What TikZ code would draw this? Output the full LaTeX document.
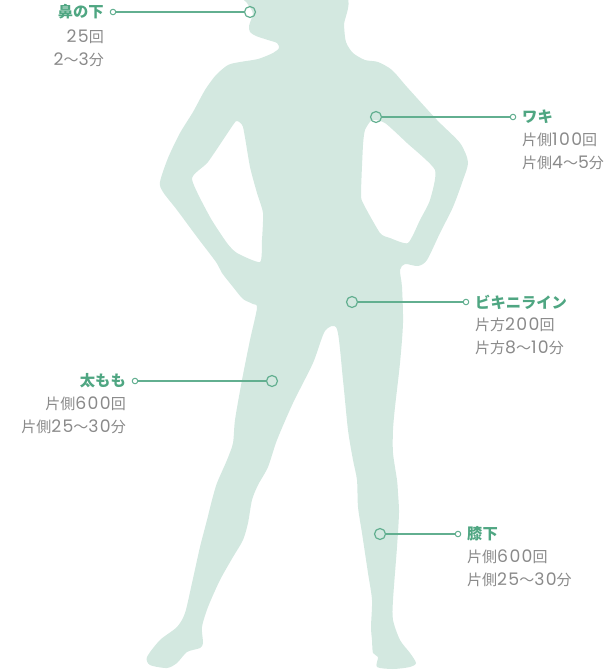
\documentclass[tikz,border=0pt]{standalone}
\usepackage{fontspec}
\newfontfamily\jp{Noto Sans CJK JP}
\newfontfamily\numfont[Scale=1.15, LetterSpace=8]{Poppins}
\newcommand{\nm}[1]{{\numfont #1}}
\definecolor{bodyfill}{HTML}{D3E8E0}
\definecolor{accent}{HTML}{4FA682}
\definecolor{linkcol}{HTML}{62AF90}
\definecolor{note}{HTML}{8A8A8A}
\tikzset{
  bigdot/.style={circle, draw=linkcol, line width=1.2pt, minimum size=11pt, inner sep=0pt},
  tipdot/.style={circle, draw=linkcol, fill=white, line width=1pt, minimum size=5.5pt, inner sep=0pt},
  link/.style={draw=linkcol, line width=1.2pt},
  lbl/.style={font=\jp\bfseries\fontsize{15.3}{17}\selectfont, text=accent, inner sep=0pt},
  info/.style={font=\jp\fontsize{15}{17}\selectfont, text=note, inner sep=0pt}
}
\begin{document}
\begin{tikzpicture}[x=1pt,y=-1pt]
\useasboundingbox (0,0) rectangle (612,670);
\clip (0,0) rectangle (612,670);
% silhouette with the two arm openings cut out
\fill[bodyfill, even odd rule]
  plot[smooth cycle, tension=0.45] coordinates {
    (246,-6) (247,3) (251,9) (253,14) (251,20) (249,26) (250,32) (256,36)
    (268,40) (277,43) (279,48) (273,53) (258,59) (240,62) (228,65) (216,75)
    (205,90) (193,112) (180,133) (168,158) (160,182) (163,192) (177,210)
    (197,237) (216,262) (222,273) (233,287) (243,299) (253,304) (257,308)
    (250,340) (242,380) (235,420) (233,443) (227,460) (217,483) (212,500)
    (207,520) (200,547) (192,583) (185,613) (177,627) (160,640) (147,657)
    (150,665) (167,668) (177,663) (187,652) (200,648) (203,643) (202,627)
    (208,607) (220,580) (233,557) (243,540) (248,523) (252,500) (258,485)
    (268,467) (277,440) (293,403) (313,363) (325,331) (337,329) (343,380)
    (348,430) (353,460) (357,480) (358,507) (362,533) (368,573) (372,600)
    (371,627) (372,640) (373,653) (378,657) (377,667) (393,669) (410,667)
    (416,663) (410,653) (400,640) (393,620) (393,600) (397,547) (399,513)
    (398,493) (397,480) (393,453) (393,430) (395,407) (400,363) (403,323)
    (402,287) (400,270) (405,264) (418,266) (427,260) (440,233) (453,207)
    (463,180) (468,162) (460,143) (437,120) (407,87) (392,70) (378,62)
    (365,60) (353,53) (346,42) (344,25) (343,-6)
  }
  plot[smooth cycle, tension=0.35] coordinates {
    (192,179) (208,162) (233,125) (237,121) (243,127) (250,167) (257,193)
    (263,213) (262,240) (260,262) (237,253) (227,243) (210,217)
  }
  plot[smooth cycle, tension=0.35] coordinates {
    (372,120) (365,130) (363,145) (361,193) (363,203) (380,233) (390,238)
    (408,243) (420,220) (430,200) (435,170) (407,143) (385,123)
  };

% 鼻の下
\node[bigdot] (nose) at (250,12) {};
\node[tipdot] (noseTip) at (113,12) {};
\draw[link] (noseTip) -- (nose);
\node[lbl, anchor=east] (noseLbl) at (104,12) {鼻の下};
\node[info, anchor=east] (noseA) at (104,37) {\nm{25}回};
\node[info, anchor=east] (noseB) at (104,60) {\nm{2}～\nm{3}分};

% ワキ
\node[bigdot] (pit) at (376,117) {};
\node[tipdot] (pitTip) at (513,117) {};
\draw[link] (pit) -- (pitTip);
\node[lbl, anchor=west] (pitLbl) at (522,117) {ワキ};
\node[info, anchor=west] (pitA) at (522,140) {片側\nm{100}回};
\node[info, anchor=west] (pitB) at (522,163) {片側\nm{4}～\nm{5}分};

% ビキニライン
\node[bigdot] (bikini) at (352,302) {};
\node[tipdot] (bikiniTip) at (466,302) {};
\draw[link] (bikini) -- (bikiniTip);
\node[lbl, anchor=west] (bikiniLbl) at (475,302) {ビキニライン};
\node[info, anchor=west] (bikiniA) at (475,325) {片方\nm{200}回};
\node[info, anchor=west] (bikiniB) at (475,348) {片方\nm{8}～\nm{10}分};

% 太もも
\node[bigdot] (thigh) at (272,381) {};
\node[tipdot] (thighTip) at (135,381) {};
\draw[link] (thighTip) -- (thigh);
\node[lbl, anchor=east] (thighLbl) at (126,381) {太もも};
\node[info, anchor=east] (thighA) at (126,404) {片側\nm{600}回};
\node[info, anchor=east] (thighB) at (126,427) {片側\nm{25}～\nm{30}分};

% 膝下
\node[bigdot] (knee) at (380,534) {};
\node[tipdot] (kneeTip) at (458,534) {};
\draw[link] (knee) -- (kneeTip);
\node[lbl, anchor=west] (kneeLbl) at (467,534) {膝下};
\node[info, anchor=west] (kneeA) at (467,557) {片側\nm{600}回};
\node[info, anchor=west] (kneeB) at (467,580) {片側\nm{25}～\nm{30}分};
\end{tikzpicture}
\end{document}
